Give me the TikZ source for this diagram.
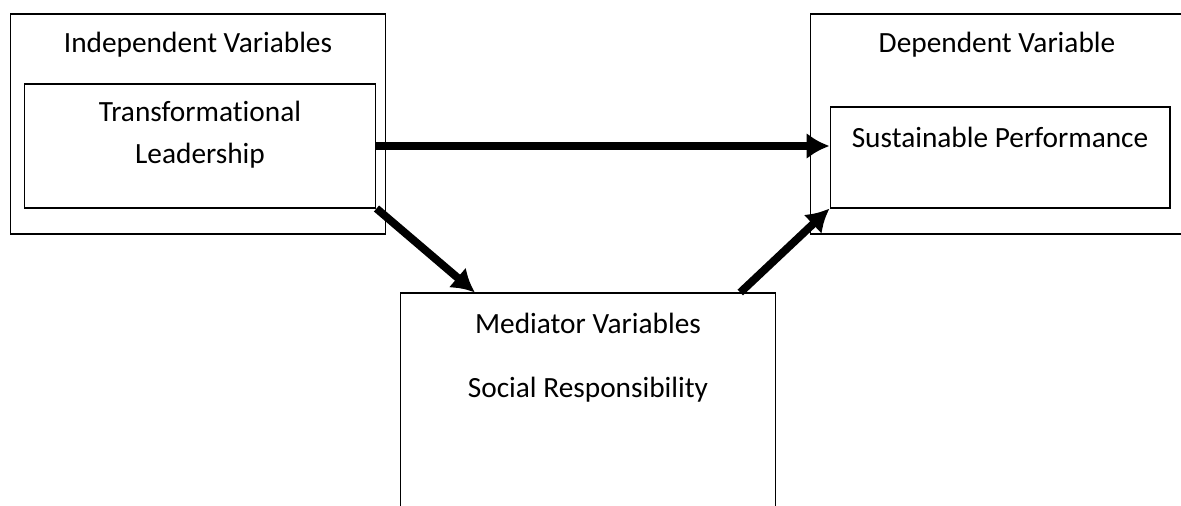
\documentclass[tikz,border=0pt]{standalone}
\usepackage{fontspec}
\setmainfont{Carlito}[Ligatures={NoCommon}]
\usetikzlibrary{arrows.meta, calc, positioning}
\tikzset{
  % Graph arrow style
  garr/.style={
    line width = 4.5pt,
    -{Latex[length=13pt,width=15pt]}
  },
  % Variable boxes
  vbox/.style={
    draw, line width = 0.6pt, inner sep = 0pt
  },
  vtxt/.style={
    font=\fontsize{16.7}{24}\selectfont, align=center
  },
}

\begin{document}
\begin{tikzpicture}[x=0.02cm, y=-0.02cm]
          \useasboundingbox (0,0) rectangle (1181,506);

          \node (indep) [vbox
                        , minimum width=7.52cm
                        , minimum height=4.4cm
                        ] at (198,124) {};
          \node (translead) [vbox
                            , minimum width=7.04cm
                            , minimum height=2.48cm
                            ] at (200,146) {};
          \node (dep) [vbox
                      , minimum width=7.5cm
                      , minimum height=4.4cm
                      ] at (997.5,124) {};
          \node (sustperf) [vbox
                           , minimum width=6.8cm
                           , minimum height=2.02cm
                           ] at (1000,157.5) {};
          \node (mediator) [vbox
                           , minimum width=7.52cm
                           , minimum height=4.74cm
                           ] at (588,411.5) {};

          \node (indeptxt) [vtxt] at (198,45) {Independent Variables};
          \node (transtxt) [vtxt] at (200,135) {Transformational\\Leadership};
          \node (deptxt) [vtxt] at (997,45) {Dependent Variable};
          \node (susttxt) [vtxt] at (1000,137) {Sustainable Performance};
          \node (medtxt) [vtxt] at (588,323) {Mediator Variables};
          \node (socialtxt) [vtxt] at (588,390) {Social Responsibility};

          \draw[garr] (translead.east) -- (translead.east -| sustperf.west);
          \draw[garr] (translead.south east)
                      -- ($(mediator.north west)!0.2!(mediator.north east)$);
          \draw[garr] ($(mediator.north west)!0.904!(mediator.north east)$)
                      -- (sustperf.south west);
      \end{tikzpicture}
\end{document}
